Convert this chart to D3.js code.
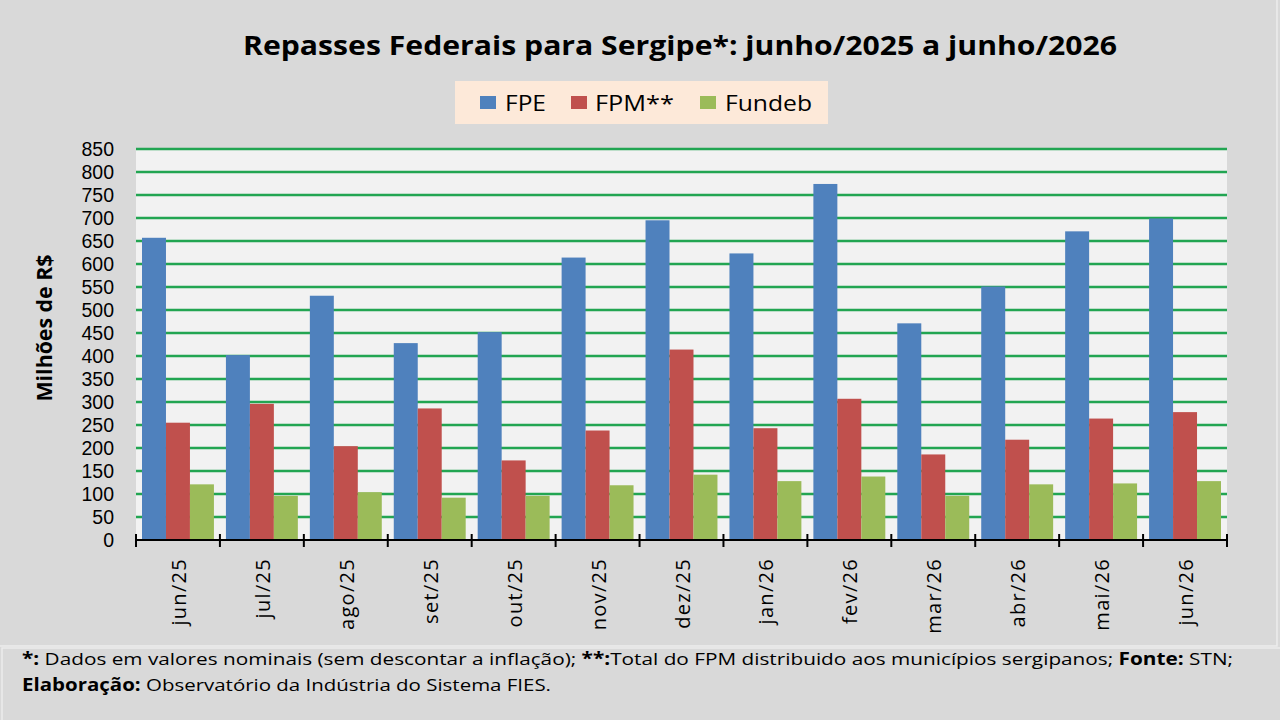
<!DOCTYPE html>
<html lang="pt-BR">
<head>
    <meta charset="UTF-8" />
    <title>Repasses Federais para Sergipe</title>
    <script src="https://d3js.org/d3.v7.min.js"></script>
    <style>
        body { margin: 0; background: #d9d9d9; }
        svg { display: block; font-family: "Open Sans", "Noto Sans", sans-serif; }
    </style>
</head>
<body>
    <script>
        // Dados (milhões de R$)
        var months = ["jun/25", "jul/25", "ago/25", "set/25", "out/25", "nov/25", "dez/25",
                      "jan/26", "fev/26", "mar/26", "abr/26", "mai/26", "jun/26"];
        var seriesNames = ["FPE", "FPM**", "Fundeb"];
        var fpe    = [657, 402, 531, 428, 452, 614, 695, 623, 774, 471, 551, 671, 699];
        var fpm    = [255, 296, 204, 286, 173, 238, 414, 243, 307, 186, 218, 264, 278];
        var fundeb = [121,  96, 104,  92,  96, 119, 142, 128, 138,  96, 121, 123, 128];
        var yTicks = d3.range(0, 851, 50);

        var colors = ["#4f81bd", "#c0504d", "#9bbb59"];
        var values = [fpe, fpm, fundeb];

        var w = 1280;
        var h = 720;
        var plot = { left: 136, right: 1227, top: 149, bottom: 540 };

        var svg = d3.select("body")
            .append("svg")
            .attr("width", w)
            .attr("height", h);

        // fundo
        svg.append("rect")
            .attr("width", w).attr("height", h)
            .attr("fill", "#d9d9d9");
        svg.append("rect")
            .attr("x", -2).attr("y", -2)
            .attr("width", 1279).attr("height", 648)
            .attr("fill", "#d9d9d9")
            .attr("stroke", "#ececec")
            .attr("stroke-width", 1.5);
        svg.append("rect")
            .attr("x", 2).attr("y", 648)
            .attr("width", 1290).attr("height", 80)
            .attr("fill", "#d9d9d9")
            .attr("stroke", "#ececec")
            .attr("stroke-width", 1.5);

        // Scales
        var xScale = d3.scaleBand()
            .domain(months)
            .range([plot.left, plot.right])
            .paddingInner(0.143)
            .paddingOuter(0.0715);

        var xSub = d3.scaleBand()
            .domain(d3.range(seriesNames.length))
            .range([0, xScale.bandwidth()]);

        var yScale = d3.scaleLinear()
            .domain([0, 850])
            .range([plot.bottom, plot.top]);

        // área do gráfico
        svg.append("rect")
            .attr("x", plot.left).attr("y", plot.top)
            .attr("width", plot.right - plot.left)
            .attr("height", plot.bottom - plot.top)
            .attr("fill", "#f2f2f2");

        // linhas de grade
        svg.append("g")
            .selectAll("line")
            .data(yTicks.filter(function(d) { return d > 0; }))
            .enter()
            .append("line")
            .attr("x1", plot.left)
            .attr("x2", plot.right)
            .attr("y1", function(d) { return yScale(d); })
            .attr("y2", function(d) { return yScale(d); })
            .attr("stroke", "#22a552")
            .attr("stroke-width", 2.5);

        // barras
        var groups = svg.append("g")
            .selectAll("g")
            .data(months)
            .enter()
            .append("g")
            .attr("transform", function(d) {
                return "translate(" + xScale(d) + ",0)";
            });

        groups.selectAll("rect")
            .data(function(d, i) {
                return values.map(function(s, k) { return { k: k, v: s[i] }; });
            })
            .enter()
            .append("rect")
            .attr("x", function(d) { return xSub(d.k); })
            .attr("y", function(d) { return yScale(d.v); })
            .attr("width", xSub.bandwidth())
            .attr("height", function(d) { return yScale(0) - yScale(d.v); })
            .attr("fill", function(d) { return colors[d.k]; });

        // eixo y (apenas rótulos)
        var yAxis = svg.append("g")
            .attr("transform", "translate(" + plot.left + ",0)")
            .call(d3.axisLeft(yScale).tickValues(yTicks).tickSize(0).tickPadding(22));
        yAxis.select(".domain").remove();
        yAxis.selectAll("text")
            .attr("font-family", "'Liberation Sans', Arial, sans-serif")
            .attr("font-size", 19.5)
            .attr("fill", "#000");

        // eixo x
        var boundaries = months.map(function(m) { return xScale(m) - xScale.step() * 0.0715; });
        boundaries.push(plot.right);

        svg.append("line")
            .attr("x1", plot.left).attr("x2", plot.right)
            .attr("y1", plot.bottom).attr("y2", plot.bottom)
            .attr("stroke", "#000")
            .attr("stroke-width", 2);

        svg.append("g")
            .selectAll("line")
            .data(boundaries)
            .enter()
            .append("line")
            .attr("x1", function(d) { return d; })
            .attr("x2", function(d) { return d; })
            .attr("y1", plot.bottom - 6)
            .attr("y2", plot.bottom + 7)
            .attr("stroke", "#000")
            .attr("stroke-width", 2);

        svg.append("g")
            .selectAll("text")
            .data(months)
            .enter()
            .append("text")
            .attr("transform", function(d) {
                return "translate(" + (xScale(d) + xScale.bandwidth() / 2 + 8) + "," + 558 + ") rotate(-90)";
            })
            .attr("text-anchor", "end")
            .attr("font-size", 20)
            .attr("letter-spacing", 1.3)
            .attr("fill", "#000")
            .text(function(d) { return d; });

        // título do eixo y
        svg.append("text")
            .attr("transform", "translate(52,328) rotate(-90)")
            .attr("text-anchor", "middle")
            .attr("font-size", 22)
            .attr("font-weight", "bold")
            .attr("textLength", 147)
            .attr("lengthAdjust", "spacingAndGlyphs")
            .attr("fill", "#000")
            .text("Milhões de R$");

        // título
        svg.append("text")
            .attr("x", 243)
            .attr("y", 55)
            .attr("font-size", 27)
            .attr("font-weight", "bold")
            .attr("textLength", 874)
            .attr("lengthAdjust", "spacingAndGlyphs")
            .attr("fill", "#000")
            .text("Repasses Federais para Sergipe*: junho/2025 a junho/2026");

        // legenda
        svg.append("rect")
            .attr("x", 455).attr("y", 81)
            .attr("width", 373).attr("height", 43)
            .attr("fill", "#fde9d9");

        var legendX = [480, 571, 700];
        var legendTextX = [505, 595, 725];
        var legendLen = [41, 79, 87];

        var legend = svg.append("g")
            .selectAll("g")
            .data(seriesNames)
            .enter()
            .append("g");

        legend.append("rect")
            .attr("x", function(d, i) { return legendX[i]; })
            .attr("y", 96)
            .attr("width", 16)
            .attr("height", 13)
            .attr("fill", function(d, i) { return colors[i]; });

        legend.append("text")
            .attr("x", function(d, i) { return legendTextX[i]; })
            .attr("y", 111)
            .attr("font-size", 22)
            .attr("textLength", function(d, i) { return legendLen[i]; })
            .attr("lengthAdjust", "spacingAndGlyphs")
            .attr("fill", "#000")
            .text(function(d) { return d; });

        // notas de rodapé
        var line1 = svg.append("text")
            .attr("x", 22)
            .attr("y", 665)
            .attr("font-size", 17)
            .attr("textLength", 1211)
            .attr("lengthAdjust", "spacingAndGlyphs")
            .attr("fill", "#000");
        line1.append("tspan").attr("font-weight", "bold").text("*:");
        line1.append("tspan").text(" Dados em valores nominais (sem descontar a inflação); ");
        line1.append("tspan").attr("font-weight", "bold").text("**:");
        line1.append("tspan").text("Total do FPM distribuido aos municípios sergipanos; ");
        line1.append("tspan").attr("font-weight", "bold").text("Fonte:");
        line1.append("tspan").text(" STN;");

        var line2 = svg.append("text")
            .attr("x", 22)
            .attr("y", 691)
            .attr("font-size", 17)
            .attr("textLength", 529)
            .attr("lengthAdjust", "spacingAndGlyphs")
            .attr("fill", "#000");
        line2.append("tspan").attr("font-weight", "bold").text("Elaboração:");
        line2.append("tspan").text(" Observatório da Indústria do Sistema FIES.");
    </script>
</body>
</html>
